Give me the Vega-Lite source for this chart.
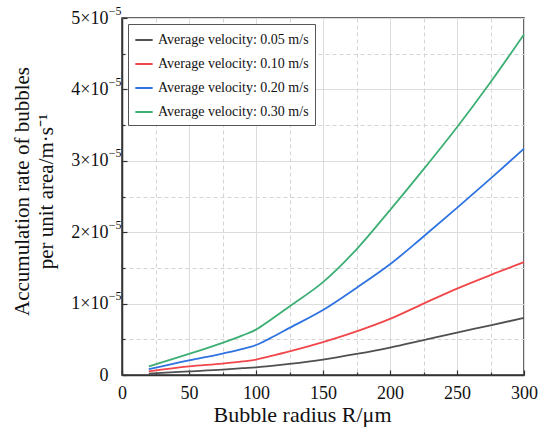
{
  "$schema": "https://vega.github.io/schema/vega-lite/v6.json",
  "width": 402,
  "height": 357,
  "autosize": {"type": "none"},
  "padding": {"left": 122, "top": 18, "right": 26, "bottom": 58},
  "config": {
    "font": "Liberation Serif",
    "view": {"stroke": "#333333", "strokeWidth": 1.5},
    "axis": {"labelFont": "Liberation Serif", "titleFont": "Liberation Serif", "labelColor": "#111", "titleColor": "#111", "titleFontWeight": "normal", "tickColor": "#333", "domainColor": "#333", "labelFlush": false, "labelOverlap": false}
  },
  "data": {
    "values": [
      {"r": 20, "v": "Average velocity: 0.05 m/s", "a": 2e-7},
      {"r": 50, "v": "Average velocity: 0.05 m/s", "a": 5e-7},
      {"r": 75, "v": "Average velocity: 0.05 m/s", "a": 7.5e-7},
      {"r": 90, "v": "Average velocity: 0.05 m/s", "a": 9.5e-7},
      {"r": 100, "v": "Average velocity: 0.05 m/s", "a": 1.07e-6},
      {"r": 110, "v": "Average velocity: 0.05 m/s", "a": 1.25e-6},
      {"r": 125, "v": "Average velocity: 0.05 m/s", "a": 1.55e-6},
      {"r": 150, "v": "Average velocity: 0.05 m/s", "a": 2.15e-6},
      {"r": 175, "v": "Average velocity: 0.05 m/s", "a": 2.95e-6},
      {"r": 200, "v": "Average velocity: 0.05 m/s", "a": 3.85e-6},
      {"r": 225, "v": "Average velocity: 0.05 m/s", "a": 4.9e-6},
      {"r": 250, "v": "Average velocity: 0.05 m/s", "a": 5.95e-6},
      {"r": 275, "v": "Average velocity: 0.05 m/s", "a": 6.95e-6},
      {"r": 300, "v": "Average velocity: 0.05 m/s", "a": 8.0e-6},
      {"r": 20, "v": "Average velocity: 0.10 m/s", "a": 5e-7},
      {"r": 50, "v": "Average velocity: 0.10 m/s", "a": 1.2e-6},
      {"r": 75, "v": "Average velocity: 0.10 m/s", "a": 1.6e-6},
      {"r": 90, "v": "Average velocity: 0.10 m/s", "a": 1.9e-6},
      {"r": 100, "v": "Average velocity: 0.10 m/s", "a": 2.15e-6},
      {"r": 110, "v": "Average velocity: 0.10 m/s", "a": 2.6e-6},
      {"r": 125, "v": "Average velocity: 0.10 m/s", "a": 3.3e-6},
      {"r": 150, "v": "Average velocity: 0.10 m/s", "a": 4.6e-6},
      {"r": 175, "v": "Average velocity: 0.10 m/s", "a": 6.1e-6},
      {"r": 200, "v": "Average velocity: 0.10 m/s", "a": 7.85e-6},
      {"r": 225, "v": "Average velocity: 0.10 m/s", "a": 1.0e-5},
      {"r": 250, "v": "Average velocity: 0.10 m/s", "a": 1.21e-5},
      {"r": 275, "v": "Average velocity: 0.10 m/s", "a": 1.4e-5},
      {"r": 300, "v": "Average velocity: 0.10 m/s", "a": 1.58e-5},
      {"r": 20, "v": "Average velocity: 0.20 m/s", "a": 8e-7},
      {"r": 50, "v": "Average velocity: 0.20 m/s", "a": 2.05e-6},
      {"r": 75, "v": "Average velocity: 0.20 m/s", "a": 3.0e-6},
      {"r": 90, "v": "Average velocity: 0.20 m/s", "a": 3.65e-6},
      {"r": 100, "v": "Average velocity: 0.20 m/s", "a": 4.2e-6},
      {"r": 110, "v": "Average velocity: 0.20 m/s", "a": 5.1e-6},
      {"r": 125, "v": "Average velocity: 0.20 m/s", "a": 6.6e-6},
      {"r": 150, "v": "Average velocity: 0.20 m/s", "a": 9.1e-6},
      {"r": 175, "v": "Average velocity: 0.20 m/s", "a": 1.22e-5},
      {"r": 200, "v": "Average velocity: 0.20 m/s", "a": 1.55e-5},
      {"r": 225, "v": "Average velocity: 0.20 m/s", "a": 1.94e-5},
      {"r": 250, "v": "Average velocity: 0.20 m/s", "a": 2.34e-5},
      {"r": 275, "v": "Average velocity: 0.20 m/s", "a": 2.75e-5},
      {"r": 300, "v": "Average velocity: 0.20 m/s", "a": 3.17e-5},
      {"r": 20, "v": "Average velocity: 0.30 m/s", "a": 1.2e-6},
      {"r": 50, "v": "Average velocity: 0.30 m/s", "a": 2.95e-6},
      {"r": 75, "v": "Average velocity: 0.30 m/s", "a": 4.5e-6},
      {"r": 90, "v": "Average velocity: 0.30 m/s", "a": 5.55e-6},
      {"r": 100, "v": "Average velocity: 0.30 m/s", "a": 6.35e-6},
      {"r": 110, "v": "Average velocity: 0.30 m/s", "a": 7.6e-6},
      {"r": 125, "v": "Average velocity: 0.30 m/s", "a": 9.6e-6},
      {"r": 150, "v": "Average velocity: 0.30 m/s", "a": 1.3e-5},
      {"r": 175, "v": "Average velocity: 0.30 m/s", "a": 1.76e-5},
      {"r": 200, "v": "Average velocity: 0.30 m/s", "a": 2.31e-5},
      {"r": 225, "v": "Average velocity: 0.30 m/s", "a": 2.88e-5},
      {"r": 250, "v": "Average velocity: 0.30 m/s", "a": 3.47e-5},
      {"r": 275, "v": "Average velocity: 0.30 m/s", "a": 4.1e-5},
      {"r": 300, "v": "Average velocity: 0.30 m/s", "a": 4.77e-5}
    ]
  },
  "layer": [
    {
      "mark": {"type": "line", "opacity": 0},
      "encoding": {
        "x": {"field": "r", "type": "quantitative", "scale": {"domain": [0, 300], "nice": false},
          "axis": {"orient": "bottom", "values": [25, 75, 125, 175, 225, 275], "labels": false, "domain": false, "title": null, "grid": true, "gridColor": "#d4d4d4", "gridDash": [4, 3], "gridWidth": 1, "tickSize": -3, "tickWidth": 1.2}},
        "y": {"field": "a", "type": "quantitative", "scale": {"domain": [0, 0.00005], "nice": false},
          "axis": {"orient": "left", "values": [0.000005, 0.000015, 0.000025, 0.000035, 0.000045], "labels": false, "domain": false, "title": null, "grid": true, "gridColor": "#d4d4d4", "gridDash": [4, 3], "gridWidth": 1, "tickSize": -3, "tickWidth": 1.2}},
        "detail": {"field": "v"}
      }
    },
    {
      "mark": {"type": "line", "opacity": 0},
      "encoding": {
        "x": {"field": "r", "type": "quantitative", "scale": {"domain": [0, 300], "nice": false}, "axis": null},
        "y": {"field": "a", "type": "quantitative", "scale": {"domain": [0, 0.00005], "nice": false},
          "axis": {"orient": "left", "values": [0.00001, 0.00002, 0.00003, 0.00004, 0.00005], "labelExpr": "'−5'", "labelFontSize": 12, "labelPadding": 1, "labelBaseline": "middle", "labelOffset": -8, "ticks": false, "domain": false, "grid": false, "title": null}},
        "detail": {"field": "v"}
      }
    },
    {
      "mark": {"type": "line", "strokeWidth": 1.8, "interpolate": "monotone"},
      "encoding": {
        "x": {"field": "r", "type": "quantitative", "scale": {"domain": [0, 300], "nice": false},
          "axis": {"orient": "bottom", "values": [0, 50, 100, 150, 200, 250, 300], "title": "Bubble radius R/μm", "titleFontSize": 22, "titleX": 180, "titleY": 29, "titleBaseline": "top", "labelFontSize": 18, "labelPadding": 14, "grid": true, "gridColor": "#dcdcdc", "gridWidth": 1, "tickSize": -5, "tickWidth": 1.2, "domainWidth": 1.5}},
        "y": {"field": "a", "type": "quantitative", "scale": {"domain": [0, 0.00005], "nice": false},
          "axis": {"orient": "left", "values": [0, 0.00001, 0.00002, 0.00003, 0.00004, 0.00005], "labelExpr": "datum.value == 0 ? '0' : format(datum.value * 100000, 'd') + '×10'", "title": ["Accumulation rate of bubbles", "per unit area/m·s⁻¹"], "titleFontSize": 21, "titleLineHeight": 24, "titleX": -90, "titleY": 173, "labelFontSize": 18, "labelPadding": 19, "grid": true, "gridColor": "#dcdcdc", "gridWidth": 1, "tickSize": -5, "tickWidth": 1.2, "domainWidth": 1.5}},
        "color": {"field": "v", "type": "nominal",
          "scale": {"domain": ["Average velocity: 0.05 m/s", "Average velocity: 0.10 m/s", "Average velocity: 0.20 m/s", "Average velocity: 0.30 m/s"], "range": ["#505050", "#f0474b", "#2f73e0", "#3daf74"]},
          "legend": {"orient": "top-left", "offset": 6, "title": null, "labelFontSize": 14, "labelLimit": 400, "labelFont": "Liberation Serif", "labelColor": "#111", "symbolType": "stroke", "symbolStrokeWidth": 2, "symbolSize": 300, "strokeColor": "#555", "fillColor": "white", "padding": 6, "rowPadding": 7, "cornerRadius": 0}}
      }
    }
  ],
  "resolve": {"axis": {"x": "independent", "y": "independent"}}
}
